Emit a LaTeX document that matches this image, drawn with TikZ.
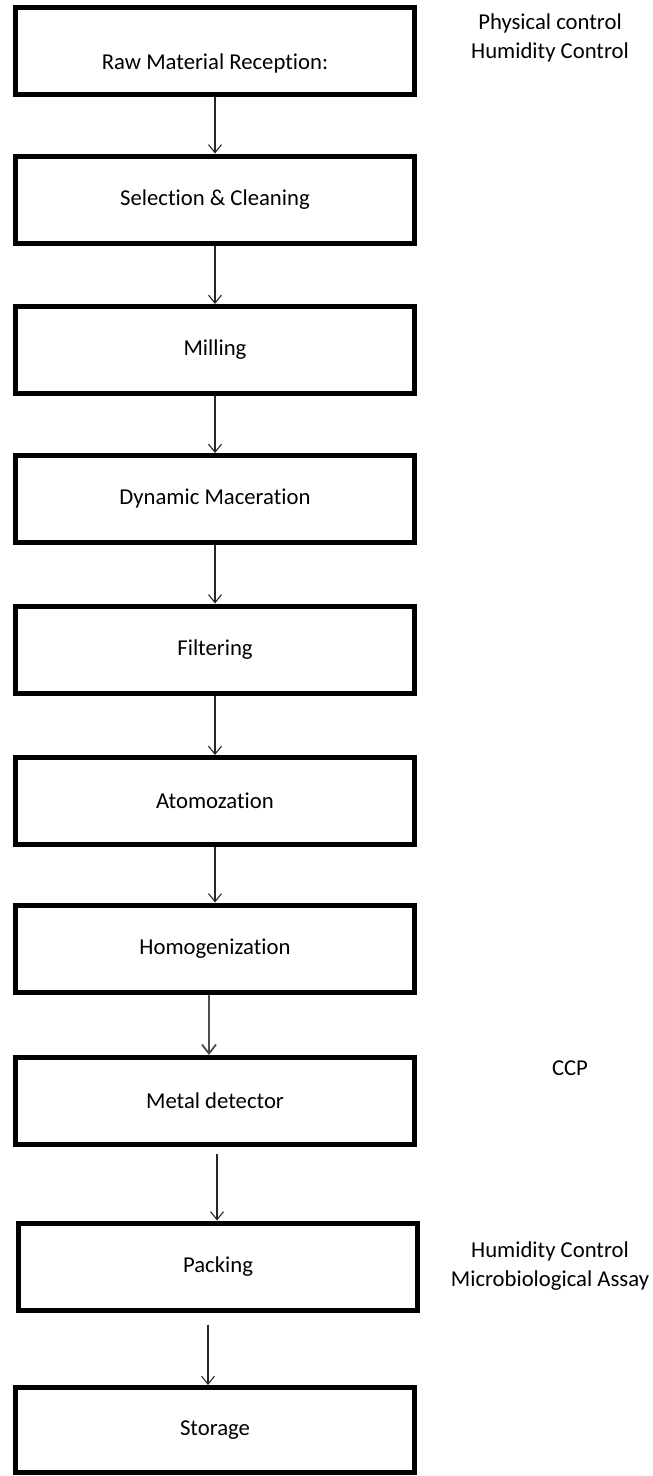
\documentclass[tikz,border=0pt]{standalone}
\usepackage{fontspec}
\setmainfont{Carlito}[Ligatures={NoCommon}]
\usetikzlibrary{arrows.meta}

\begin{document}
\begin{tikzpicture}[x=1pt, y=-1pt,
    pbox/.style={rectangle, draw=black, line width=5pt, fill=white,
                 minimum width=399pt, minimum height=87pt, inner sep=0pt,
                 font=\fontsize{22.7}{28}\selectfont},
    parrow/.style={draw=black!85, line width=1.1pt,
                   -{Straight Barb[length=8pt, width=13pt, line width=1.1pt]}},
    note/.style={align=center, font=\fontsize{22.7}{29.5}\selectfont}
]
    \useasboundingbox (0,0) rectangle (653,1476);

    \node[pbox, text height=41pt, text depth=5pt] (raw) at (215,51) {Raw Material Reception:};
    \node[pbox] (sel)   at (215,199.5)  {Selection \& Cleaning};
    \node[pbox] (mill)  at (215,350)    {Milling};
    \node[pbox] (dyn)   at (215,499)    {Dynamic Maceration};
    \node[pbox] (filt)  at (215,649.5)  {Filtering};
    \node[pbox] (atom)  at (215,801)    {Atomozation};
    \node[pbox] (homog) at (215,948.5)  {Homogenization};
    \node[pbox] (metal) at (215,1101)   {Metal detector};
    \node[pbox] (pack)  at (218,1266.5) {Packing};
    \node[pbox, minimum height=85pt] (stor) at (215,1430) {Storage};

    \node[note] (ctlraw)  at (550,38)   {Physical control\\Humidity Control};
    \node[note] (ccp)     at (570,1068) {CCP};
    \node[note] (ctlpack) at (550,1266) {Humidity Control\\Microbiological Assay};

    \draw[parrow] (raw)  -- (sel);
    \draw[parrow] (sel)  -- (mill);
    \draw[parrow] (mill) -- (dyn);
    \draw[parrow] (dyn)  -- (filt);
    \draw[parrow] (filt) -- (atom);
    \draw[parrow] (atom) -- (homog);
    \draw[parrow, draw=black!70, line width=1.8pt,
          -{Straight Barb[length=9pt, width=14pt, line width=1.8pt]}]
        ([xshift=-6pt]homog.south) -- ([xshift=-6pt]metal.north);
    \draw[parrow] ([xshift=2pt,yshift=-7pt]metal.south) -- ([xshift=-1pt]pack.north);
    \draw[parrow] ([xshift=-10pt,yshift=-12pt]pack.south) -- ([xshift=-7pt]stor.north);
\end{tikzpicture}
\end{document}
